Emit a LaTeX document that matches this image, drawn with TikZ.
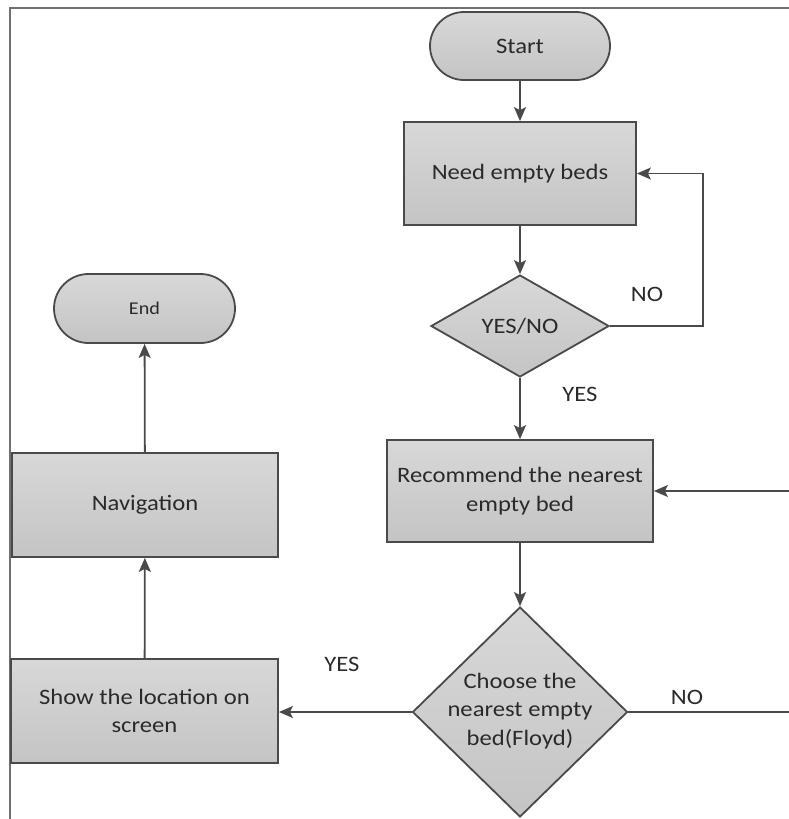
\documentclass[tikz,border=0pt]{standalone}
\usepackage{fontspec}
\setmainfont{Carlito}[FakeStretch=1.12]
\usetikzlibrary{arrows.meta,shapes.geometric}
\definecolor{linec}{HTML}{4A4A4A}
\definecolor{txtc}{HTML}{2A2A2A}
\definecolor{filltop}{HTML}{D8D8D8}
\definecolor{fillbot}{HTML}{C4C4C4}
\definecolor{framec}{HTML}{707070}
\begin{document}
\begin{tikzpicture}[x=1pt,y=-1pt,
  box/.style={draw=linec, line width=1.8pt, top color=filltop, bottom color=fillbot, inner sep=0pt, align=center, text=txtc, font=\fontsize{22}{28.5}\selectfont},
  term/.style={box, rounded corners=34pt},
  dia/.style={box, diamond},
  lbl/.style={text=txtc, font=\fontsize{22}{28.5}\selectfont, inner sep=0pt, align=center},
  arr/.style={draw=linec, line width=1.8pt, -{Stealth[length=14pt,width=12pt,inset=3pt]}},
  ln/.style={draw=linec, line width=1.8pt},
]
\useasboundingbox (0,0) rectangle (789,819);
\draw[framec, line width=1.8pt] (10,819) -- (10,8) -- (789,8);

\node[term, minimum width=180pt, minimum height=68pt] (start) at (520,46) {Start};
\node[box, minimum width=232pt, minimum height=103pt] (need) at (520,173.5) {Need empty beds};
\node[dia, minimum width=178pt, minimum height=102pt] (d1) at (520,326) {YES/NO};
\node[box, minimum width=266pt, minimum height=102pt] (rec) at (520,491) {Recommend the nearest\\empty bed};
\node[dia, minimum width=215pt, minimum height=210pt] (d2) at (520,712) {};
\node[lbl] (d2t) at (520,711) {Choose the\\nearest empty\\bed(Floyd)};
\node[box, minimum width=267pt, minimum height=104pt] (show) at (144.5,711) {Show the location on\\screen};
\node[box, minimum width=266pt, minimum height=104pt] (nav) at (145,505) {Navigation};
\node[term, minimum width=181pt, minimum height=69pt, rounded corners=34.5pt, font=\fontsize{18}{21}\selectfont] (end) at (144.5,308.5) {End};

\coordinate (rin) at (789,491);
\coordinate (dout) at (789,712);

\draw[arr] (start) -- (need);
\draw[arr] (need) -- (d1);
\draw[arr] (d1.east) -- ++(93,0) |- (need.east);
\draw[arr] (d1) -- (rec);
\draw[arr] (rin) -- (rec.east);
\draw[arr] (rec) -- (d2);
\draw[ln] (d2.east) -- (dout);
\draw[arr] (d2.west) -- (d2.west -| show.east);
\draw[arr] (show) -- (nav);
\draw[arr] (nav) -- (end);

\node[lbl] (no1) at (647,294) {NO};
\node[lbl] (yes1) at (580,394) {YES};
\node[lbl] (yes2) at (342,664) {YES};
\node[lbl] (no2) at (687,697) {NO};
\end{tikzpicture}
\end{document}
